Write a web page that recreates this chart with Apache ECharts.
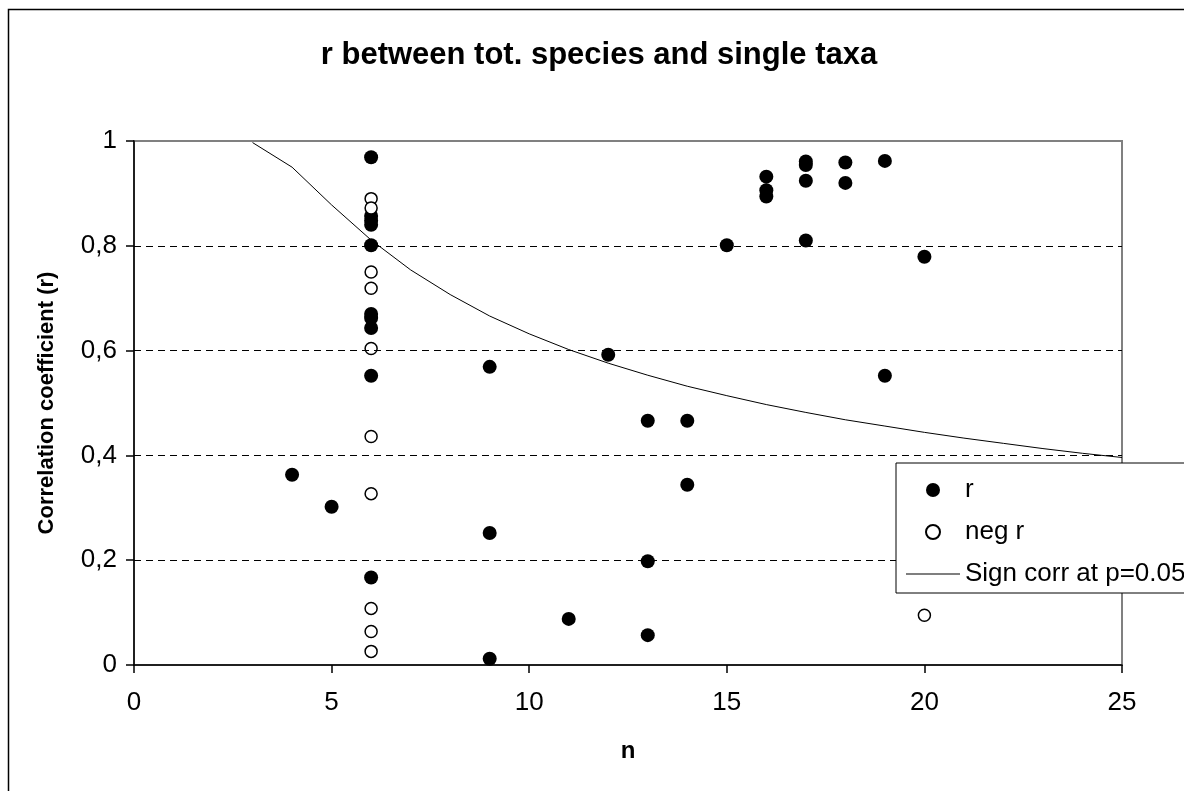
<!DOCTYPE html>
<html>
<head>
<meta charset="utf-8">
<script src="https://cdn.jsdelivr.net/npm/echarts@6/dist/echarts.min.js"></script>
<style>
html, body { margin: 0; padding: 0; background: #fff; }
#chart { width: 1184px; height: 791px; }
</style>
</head>
<body>
<div id="chart"></div>
<script>
// axis ticks
const xTicks = [0, 5, 10, 15, 20, 25];
const yTicks = [0, 0.2, 0.4, 0.6, 0.8, 1];

// filled dots: r
const rN   = [4, 5, 6, 6, 6, 6, 6, 6, 6, 6, 6, 6, 9, 9, 9, 11, 12, 13, 13, 13, 14, 14, 15, 16, 16, 16, 17, 17, 17, 17, 18, 18, 19, 19, 20];
const rVal = [0.363, 0.302, 0.969, 0.857, 0.848, 0.840, 0.801, 0.670, 0.662, 0.643, 0.552, 0.167,
              0.569, 0.252, 0.012, 0.088, 0.592, 0.466, 0.198, 0.057, 0.466, 0.344, 0.801,
              0.932, 0.906, 0.894, 0.961, 0.954, 0.924, 0.810, 0.959, 0.920, 0.962, 0.552, 0.779];

// open dots: neg r
const negN   = [6, 6, 6, 6, 6, 6, 6, 6, 6, 6, 20];
const negVal = [0.890, 0.872, 0.750, 0.719, 0.604, 0.436, 0.327, 0.108, 0.064, 0.026, 0.095];

// critical r line (p=0.05)
const signN = [3, 4, 5, 6, 7, 8, 9, 10, 11, 12, 13, 14, 15, 16, 17, 18, 19, 20, 21, 22, 23, 24, 25];
const signR = [0.997, 0.950, 0.878, 0.811, 0.754, 0.707, 0.666, 0.632, 0.602, 0.576, 0.553, 0.532,
               0.514, 0.497, 0.482, 0.468, 0.456, 0.444, 0.433, 0.423, 0.413, 0.404, 0.396];

const FONT = '"Liberation Sans", Arial, sans-serif';
// plain horizontal stroke for the legend (degenerate corners keep the 54x14 box)
const LINE_ICON = 'path://M0,0L0,0.01ZM0,6.5L54,6.5L54,7.5L0,7.5ZM54,14L54,13.99Z';

const chart = echarts.init(document.getElementById('chart'));

let option = {
  animation: false,
  backgroundColor: '#fff',
  title: {
    text: 'r between tot. species and single taxa',
    left: 594,
    textAlign: 'center',
    top: 35,
    textStyle: { fontFamily: FONT, fontSize: 31, fontWeight: 'bold', color: '#000' }
  },
  graphic: [{
    // outer chart frame (cut off at right/bottom)
    type: 'rect',
    silent: true,
    shape: { x: 8.5, y: 9.5, width: 1300, height: 900 },
    style: { fill: null, stroke: '#000', lineWidth: 1.5 }
  }],
  grid: {
    left: 134, top: 141, width: 988, height: 524,
    show: true, borderColor: '#808080', borderWidth: 2
  },
  legend: {
    z: 20,
    orient: 'vertical',
    left: 896, top: 463,
    padding: [14, 60, 6, 10],
    itemWidth: 54, itemHeight: 14, itemGap: 16,
    selectedMode: false,
    backgroundColor: '#fff', borderColor: '#000', borderWidth: 1,
    textStyle: { fontFamily: FONT, fontSize: 26, color: '#000' },
    data: [
      { name: 'r' },
      { name: 'neg r' },
      { name: 'Sign corr at p=0.05', icon: LINE_ICON, itemStyle: { color: '#000', borderWidth: 0 } }
    ]
  },
  xAxis: {
    type: 'value', min: 0, max: 25, interval: 5,
    name: 'n', nameLocation: 'middle', nameGap: 74,
    nameTextStyle: { fontFamily: FONT, fontSize: 24, fontWeight: 'bold', color: '#000' },
    axisLine: { show: true, onZero: false, lineStyle: { color: '#000', width: 1.5 } },
    axisTick: { show: true, length: 8, lineStyle: { color: '#000', width: 1.5 } },
    axisLabel: { fontFamily: FONT, fontSize: 26, color: '#000', margin: 25 },
    splitLine: { show: false }
  },
  yAxis: {
    type: 'value', min: 0, max: 1, interval: 0.2,
    name: 'Correlation coefficient (r)', nameLocation: 'middle', nameGap: 76, nameRotate: 90,
    nameTextStyle: { fontFamily: FONT, fontSize: 22, fontWeight: 'bold', color: '#000' },
    axisLine: { show: true, onZero: false, lineStyle: { color: '#000', width: 1.5 } },
    axisTick: { show: true, length: 8, lineStyle: { color: '#000', width: 1.5 } },
    axisLabel: {
      fontFamily: FONT, fontSize: 26, color: '#000', margin: 17,
      formatter: (v) => String(+v.toFixed(1)).replace('.', ',')
    },
    splitLine: { show: false }
  },
  series: [
    {
      name: 'Sign corr at p=0.05',
      type: 'line',
      z: 2,
      symbol: 'none',
      lineStyle: { color: '#000', width: 1 },
      itemStyle: { color: '#000' },
      data: signN.map((n, i) => [n, signR[i]]),
      // dashed gridlines
      markLine: {
        silent: true, symbol: 'none', label: { show: false },
        lineStyle: { color: '#000', width: 1, type: [7, 5] },
        data: yTicks.filter(v => v > 0 && v < 1).map(v => ({ yAxis: v }))
      }
    },
    {
      name: 'r',
      type: 'scatter',
      z: 3,
      symbol: 'circle',
      symbolSize: 14,
      itemStyle: { color: '#000', opacity: 1 },
      data: rN.map((n, i) => [n, rVal[i]])
    },
    {
      name: 'neg r',
      type: 'scatter',
      z: 4,
      symbol: 'circle',
      symbolSize: 12,
      itemStyle: { color: '#fff', borderColor: '#000', borderWidth: 1.5, opacity: 1 },
      data: negN.map((n, i) => [n, negVal[i]])
    }
  ]
};

chart.setOption(option);
</script>
</body>
</html>
